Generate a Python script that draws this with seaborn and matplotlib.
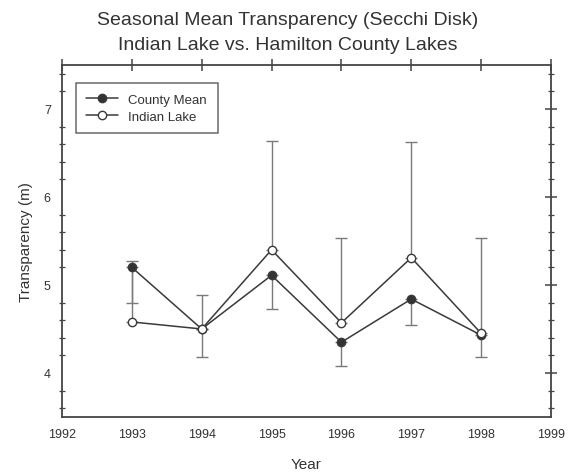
import matplotlib
matplotlib.use("Agg")
import matplotlib.pyplot as plt
import seaborn as sns
import pandas as pd
import numpy as np
from matplotlib.ticker import MultipleLocator

years = [1993, 1994, 1995, 1996, 1997, 1998]
county_mean = [5.20, 4.50, 5.11, 4.35, 4.84, 4.43]
county_low = [4.80, 4.18, 4.73, 4.08, 4.55, 4.18]
indian_lake = [4.58, 4.50, 5.40, 4.57, 5.31, 4.45]
indian_high = [5.27, 4.89, 6.64, 5.53, 6.62, 5.53]
xticks = [1992, 1993, 1994, 1995, 1996, 1997, 1998, 1999]
yticks = [4, 5, 6, 7]

sns.set_theme(style="white")
plt.rcParams['font.family'] = ['Liberation Sans', 'DejaVu Sans']

fig = plt.figure(figsize=(5.76, 4.77), dpi=100)
ax = fig.add_axes([0.1076, 0.1237, 0.849, 0.738])

line_c = "#3a3a3a"
err_c = "#7a7a7a"

df_c = pd.DataFrame({"Year": years, "Value": county_mean})
df_i = pd.DataFrame({"Year": years, "Value": indian_lake})

# one-sided error bars
ax.errorbar(years, county_mean,
            yerr=[np.array(county_mean) - np.array(county_low), np.zeros(len(years))],
            fmt="none", ecolor=err_c, elinewidth=1.0, capsize=4, capthick=1.0, zorder=1)
ax.errorbar(years, indian_lake,
            yerr=[np.zeros(len(years)), np.array(indian_high) - np.array(indian_lake)],
            fmt="none", ecolor=err_c, elinewidth=1.0, capsize=4, capthick=1.0, zorder=1)

sns.lineplot(data=df_c, x="Year", y="Value", ax=ax, color=line_c, lw=1.1,
             marker="o", markersize=6, markerfacecolor="#333333",
             markeredgecolor=line_c, markeredgewidth=1.0, label="County Mean", zorder=3)
sns.lineplot(data=df_i, x="Year", y="Value", ax=ax, color=line_c, lw=1.1,
             marker="o", markersize=6, markerfacecolor="white",
             markeredgecolor=line_c, markeredgewidth=1.0, label="Indian Lake", zorder=4)

ax.set_xlim(1992, 1999)
ax.set_ylim(3.5, 7.5)
ax.set_xticks(xticks)
ax.set_xticklabels([str(t) for t in xticks])
ax.set_yticks(yticks)
ax.set_yticklabels([str(t) for t in yticks])
ax.yaxis.set_minor_locator(MultipleLocator(0.2))

for s in ax.spines.values():
    s.set_color("#444444")
    s.set_linewidth(1.3)

ax.tick_params(axis="both", which="major", direction="inout", length=9, width=1.1,
               color="#444444", top=True, right=True, labelsize=9, labelcolor="#333333")
ax.tick_params(axis="y", which="minor", direction="inout", length=5, width=0.9,
               color="#444444", left=True, right=True)
ax.tick_params(axis="x", which="minor", bottom=False, top=False)

ax.set_xlabel("Year", fontsize=11, color="#333333", labelpad=12)
ax.set_ylabel("Transparency (m)", fontsize=11, color="#333333", labelpad=8)

fig.text(0.5, 0.958, "Seasonal Mean Transparency (Secchi Disk)", ha="center", va="center",
         fontsize=14, color="#333333")
fig.text(0.5, 0.904, "Indian Lake vs. Hamilton County Lakes", ha="center", va="center",
         fontsize=14, color="#333333")

leg = ax.legend(loc="upper left", bbox_to_anchor=(0.02, 0.96), frameon=True,
                fancybox=False, edgecolor="#444444", fontsize=9.5, handlelength=2.4,
                borderpad=0.8, labelspacing=0.35, borderaxespad=0.3)
leg.get_frame().set_linewidth(1.1)
for t in leg.get_texts():
    t.set_color("#333333")

fig.savefig("out.png", dpi=100, facecolor="white")
